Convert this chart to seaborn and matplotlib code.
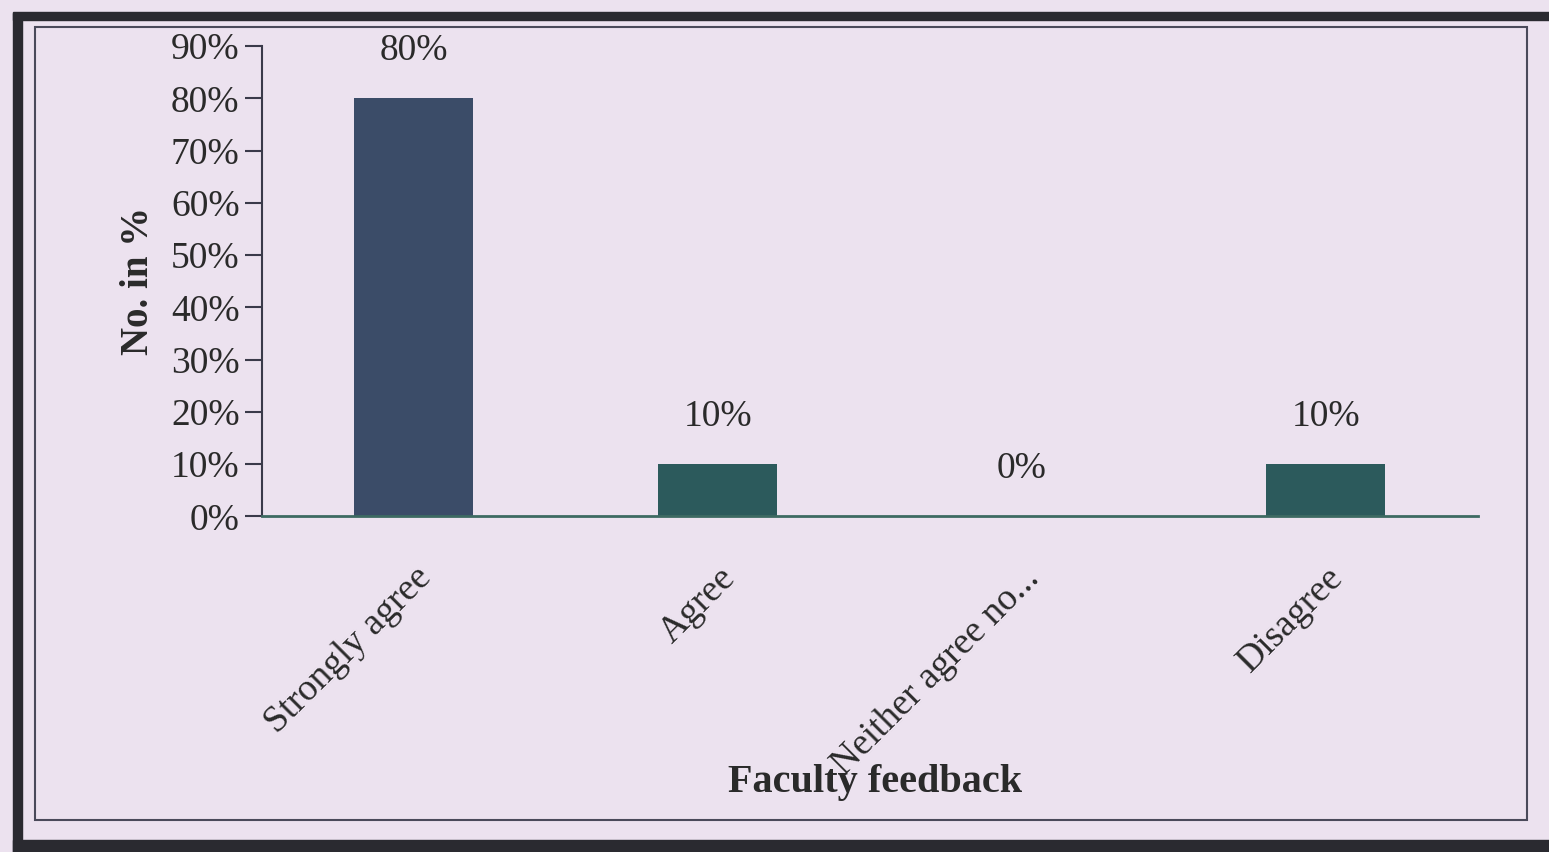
import matplotlib
matplotlib.use("Agg")
import matplotlib.pyplot as plt
import seaborn as sns
import pandas as pd
from matplotlib.patches import Rectangle
from matplotlib.ticker import PercentFormatter

# data
categories = ['Strongly agree', 'Agree', 'Neither agree no...', 'Disagree']
values = [80, 10, 0, 10]
bar_labels = ['80%', '10%', '0%', '10%']

df = pd.DataFrame({'Response': categories, 'Percent': values})

sns.set_theme(style='white')
plt.rcParams['font.family'] = ['Liberation Serif', 'DejaVu Serif']

bg = '#ece2ef'
txt = '#2a2a2a'
fig = plt.figure(figsize=(15.49, 8.52), dpi=100, facecolor=bg)
ax = fig.add_axes([0.169, 0.394, 0.785, 0.552])
ax.set_facecolor(bg)

# the first bar looks purple-ish in the scan, the rest dark teal
bar_colors = ['#3b4c68', '#2c5a5c', '#2c5a5c', '#2c5a5c']
sns.barplot(data=df, x='Response', y='Percent', hue='Response',
            palette=bar_colors, width=0.39, saturation=1, legend=False,
            linewidth=0, ax=ax)

ax.set_ylim(0, 90)
ax.set_xlim(-0.5, 3.5)
ax.set_yticks(range(0, 91, 10))
ax.yaxis.set_major_formatter(PercentFormatter(decimals=0))
ax.tick_params(axis='y', left=True, length=12, width=1.5, color='#3a3a4a',
               labelsize=27, pad=4, labelcolor=txt)
ax.tick_params(axis='x', bottom=False, labelsize=27, labelcolor=txt, pad=26)
plt.setp(ax.get_xticklabels(), rotation=45, ha='right', rotation_mode='anchor')

for s in ['top', 'right']:
    ax.spines[s].set_visible(False)
ax.spines['left'].set_color('#3a3a4a')
ax.spines['left'].set_linewidth(1.5)
ax.spines['bottom'].set_color('#3d6a62')
ax.spines['bottom'].set_linewidth(2)

for i, (v, lab) in enumerate(zip(values, bar_labels)):
    ax.annotate(lab, (i, v), xytext=(0, 22), textcoords='offset points',
                ha='center', va='bottom', fontsize=27, color=txt)

ax.set_ylabel('No. in %', fontsize=28, fontweight='bold', color=txt, labelpad=10)
ax.set_xlabel('')
fig.text(0.565, 0.081, 'Faculty feedback', ha='center', va='center',
         fontsize=29, fontweight='bold', color=txt)

# scanned frame: thick outer border and thin inner box
fig.patches.append(Rectangle((0.0085, 0.0), 0.006, 0.985, transform=fig.transFigure,
                             color='#2a2a30', zorder=0))
fig.patches.append(Rectangle((0.0085, 0.977), 0.9915, 0.009, transform=fig.transFigure,
                             color='#2a2a30', zorder=0))
fig.patches.append(Rectangle((0.0085, 0.0), 0.9915, 0.014, transform=fig.transFigure,
                             color='#2a2a30', zorder=0))
fig.patches.append(Rectangle((0.0225, 0.038), 0.963, 0.93, transform=fig.transFigure,
                             fill=False, edgecolor='#4a4a5a', linewidth=1.5, zorder=0))

fig.savefig('out.png', dpi=100, facecolor=bg)
